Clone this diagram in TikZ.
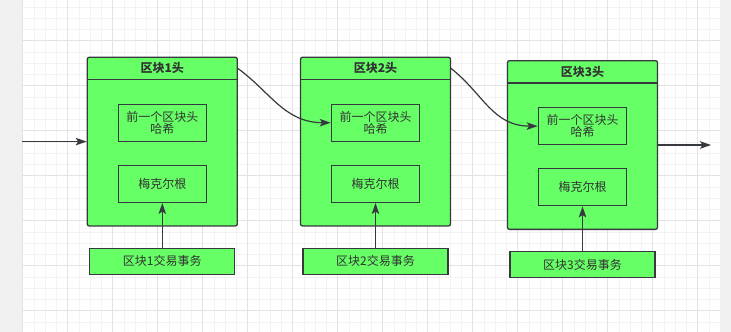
\documentclass[tikz,border=0pt]{standalone}
\usepackage{fontspec}
\newfontfamily\cjk{Noto Sans CJK SC}
\usepackage{tikz}
\usetikzlibrary{arrows.meta}
\usepackage{xcolor}
\definecolor{blockgreen}{HTML}{66FF66}
\definecolor{edgegray}{HTML}{36393D}
\definecolor{inkgray}{HTML}{333333}
\definecolor{gridminor}{HTML}{F3F3F3}
\definecolor{gridmajor}{HTML}{E3E3E3}
\definecolor{margingray}{HTML}{F0F0F0}

\begin{document}
\begin{tikzpicture}[
  x=1pt,
  y=-1pt,
  font=\cjk\fontsize{12}{11.5}\selectfont,
  blockbox/.style={draw=edgegray,fill=blockgreen,line width=1.3pt,
    rounded corners=2pt,inner sep=0pt,minimum width=150pt,
    minimum height=168.7pt},
  headbox/.style={inner sep=0pt,minimum width=150pt,
    minimum height=22.7pt,text=inkgray,font=\cjk\bfseries\fontsize{12}{14}\selectfont},
  fieldbox/.style={draw=edgegray,fill=blockgreen,line width=1.2pt,
    inner sep=0pt,minimum width=88.4pt,minimum height=37pt,
    align=center,text=inkgray},
  txbox/.style={draw=edgegray,fill=blockgreen,line width=1.2pt,
    inner sep=0pt,minimum width=145pt,minimum height=26pt,text=inkgray},
  link/.style={draw=edgegray,line width=1.2pt,
    -{Stealth[length=11pt,width=7.5pt,inset=2.5pt]}}
]
  \useasboundingbox (0,0) rectangle (731,332);

  % Grid background.
  \fill[margingray] (0,0) rectangle (731,332);
  \fill[white] (22.7,0) rectangle (720,332);
  \foreach \k in {0,...,61}
    \draw[gridminor,line width=0.8pt]
      ({22.7+11.25*\k},0) -- ({22.7+11.25*\k},332);
  \foreach \k in {-3,...,25}
    \draw[gridminor,line width=0.8pt]
      (22.7,{40.7+11.25*\k}) -- (720,{40.7+11.25*\k});
  \foreach \k in {0,...,15}
    \draw[gridmajor,line width=0.8pt]
      ({22.7+45*\k},0) -- ({22.7+45*\k},332);
  \foreach \k in {0,...,6}
    \draw[gridmajor,line width=0.8pt]
      (22.7,{40.7+45*\k}) -- (720,{40.7+45*\k});

  % Blocks with their fields and transactions.
  \foreach \i/\cx/\cy in {1/162.3/141.6,2/375.5/141.6,3/582.5/145}
    {
      \node[blockbox] (blk\i) at (\cx,\cy) {};
      \node[headbox,anchor=north] (hdr\i) at (blk\i.north)
        {区块\i 头};
      \draw[edgegray,line width=1.3pt]
        (hdr\i.south west) -- (hdr\i.south east);
      \node[fieldbox] (prev\i) at ({\cx},{\cy-18.9})
        {前一个区块头\\哈希};
      \node[fieldbox] (root\i) at ({\cx},{\cy+42.3}) {梅克尔根};
      \node[txbox] (tx\i) at ({\cx},{\cy+119.5}) {区块\i 交易事务};
      \draw[link] (tx\i) -- (root\i);
    }

  % Links along the chain.
  \coordinate (chainin) at (22,141.6);
  \coordinate (chainout) at (711,145);
  \draw[link] (chainin) -- (blk1);
  \draw[link] (hdr1.east) .. controls +(33,24) and +(-46,0)
    .. (prev2.west);
  \draw[link] (hdr2.east) .. controls +(33,26) and +(-45,0)
    .. (prev3.west);
  \draw[link] (blk3) -- (chainout);
\end{tikzpicture}
\end{document}
